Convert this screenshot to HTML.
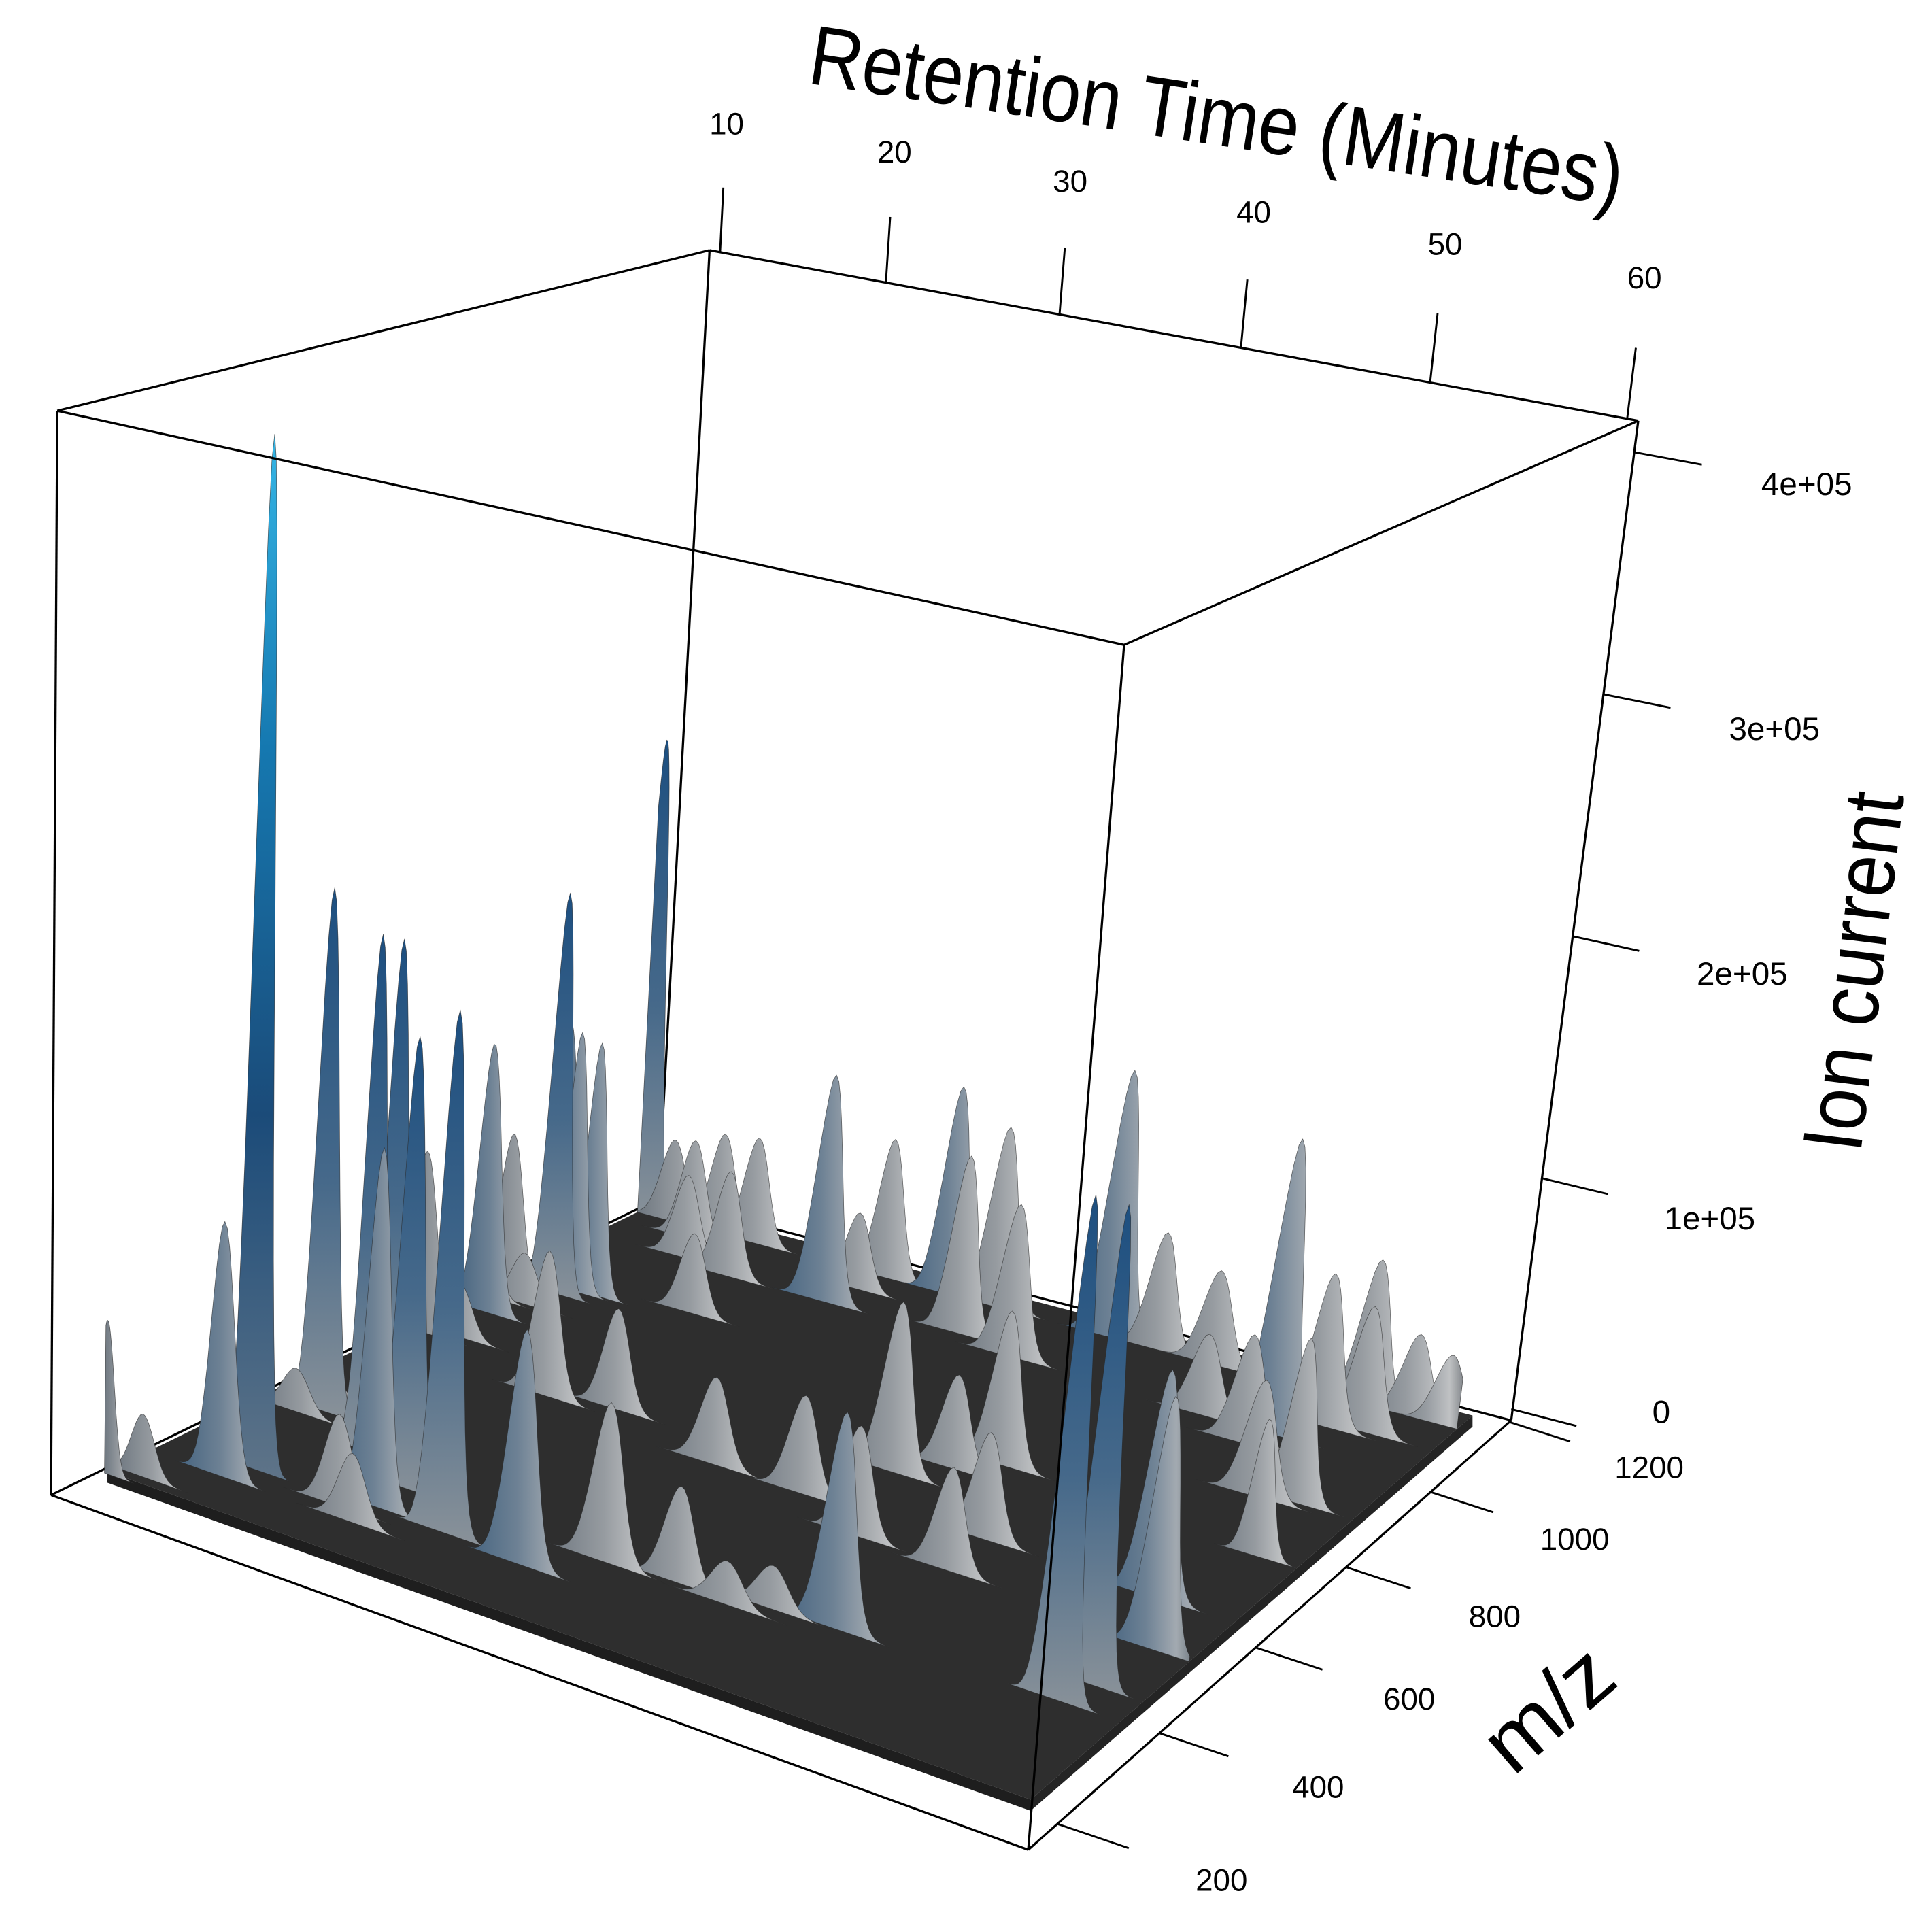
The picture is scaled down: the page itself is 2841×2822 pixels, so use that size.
<!DOCTYPE html>
<html><head><meta charset="utf-8"><title>Ion current surface</title>
<style>
html,body{margin:0;padding:0;background:#fff;}
svg{display:block;}
text{font-family:"Liberation Sans",Arial,sans-serif;fill:#000;}
</style></head>
<body>
<svg id="chart" xmlns="http://www.w3.org/2000/svg" width="2841" height="2822" viewBox="0 0 1552 1541.6" preserveAspectRatio="none">
<defs>
<linearGradient id="g-cyan" x1="0" y1="0" x2="0" y2="1">
<stop offset="0" stop-color="#35b6e6"/><stop offset="0.3" stop-color="#1578b0"/><stop offset="0.65" stop-color="#1b4b79"/><stop offset="1" stop-color="#5f7488"/>
</linearGradient>
<linearGradient id="g-blue" x1="0" y1="0" x2="0" y2="1">
<stop offset="0" stop-color="#1d4f80"/><stop offset="0.55" stop-color="#46698a"/><stop offset="1" stop-color="#8a9299"/>
</linearGradient>
<linearGradient id="g-mid" x1="0" y1="0" x2="1" y2="0">
<stop offset="0" stop-color="#42617e"/><stop offset="0.5" stop-color="#6d8194"/><stop offset="0.85" stop-color="#a3aab1"/><stop offset="1" stop-color="#7c848b"/>
</linearGradient>
<linearGradient id="g-gray" x1="0" y1="0" x2="1" y2="0">
<stop offset="0" stop-color="#6e7780"/><stop offset="0.5" stop-color="#969ba0"/><stop offset="0.82" stop-color="#bfc1c3"/><stop offset="1" stop-color="#85898d"/>
</linearGradient>
</defs>
<g id="back-edges"></g>
<g id="floor"></g>
<g id="peaks"></g>
<g id="front-edges"></g>
<g id="axes"></g>
<g transform="translate(974,116) rotate(8.6)">
<text x="0" y="0" text-anchor="middle" font-size="68" textLength="660" lengthAdjust="spacingAndGlyphs">Retention Time (Minutes)</text>
</g>
<g transform="translate(1512,783) rotate(-83.1)">
<text x="0" y="0" text-anchor="middle" font-size="68" textLength="290" lengthAdjust="spacingAndGlyphs">Ion current</text>
</g>
<g transform="translate(1243,1372) rotate(-41)">
<text x="0" y="24" text-anchor="middle" font-size="68" textLength="115" lengthAdjust="spacingAndGlyphs">m/z</text>
</g>
</svg>
<script>
// ---- data ----
const peakTime = [14.0,9.7,11.0,13.4,12.5,16.7,14.6,20.2,24.0,20.2,10.6,11.4,11.0,12.5,13.0,14.0,9.8,9.9,11.6,14.5,13.7,16.5,14.9,17.8,23.4,24.4,28.1,31.0,31.1,34.7,23.9,19.1,10.2,12.2,12.2,19.2,28.4,31.3,22.6,36.9,40.8,43.1,34.6,29.6,35.0,37.9,44.4,44.2,39.8,39.1,19.0,20.4,11.7,11.1,39.0,37.8,50.5,54.9,55.5,53.9,53.1,52.1,40.6,43.9,53.1,55.8,57.8,46.4,49.8,54.3,56.5,56.2,55.1];
const peakMz = [346,230,250,308,516,462,570,413,350,355,753,839,892,925,942,946,1021,1161,1161,1161,1133,1161,1086,1071,1073,1161,1161,1161,1084,1065,1120,968,875,882,767,698,339,401,716,762,841,423,663,666,409,399,604,686,420,805,330,307,496,559,614,1161,1054,430,479,677,925,1097,1161,1161,1161,1161,1161,1054,1021,1107,580,813,935];
const peakIntensity = [400000,59000,24000,98000,207000,202000,186000,174000,198000,137000,74000,111000,67000,167000,108000,105000,98000,205000,35000,43000,42000,45000,35000,44000,95000,59000,88000,76000,74000,63000,32000,33000,23000,21000,22000,58000,88000,60000,40000,67000,61000,80000,38000,34000,36000,16000,39000,41000,16000,37000,35000,26000,17000,21000,42000,112000,120000,183000,175000,86000,46000,62000,49000,39000,60000,34000,29000,33000,44000,51000,94000,53000,65000];
const peakWidth = [0.48,0.36,0.6,0.6,0.54,0.54,0.54,0.6,0.6,0.6,0.66,0.6,0.66,0.54,0.54,0.54,0.6,0.54,0.72,0.72,0.72,0.72,0.72,0.72,0.72,0.72,0.72,0.78,0.72,0.78,0.72,0.72,0.72,0.72,0.72,0.72,0.72,0.78,0.72,0.78,0.78,0.78,0.78,0.78,0.78,0.84,0.78,0.78,0.84,0.78,0.72,0.72,0.72,0.72,0.78,0.78,0.78,0.62,0.62,0.78,0.84,0.84,0.78,0.84,0.84,0.84,0.84,0.84,0.84,0.84,0.72,0.6,0.72];
const timeTicks = [10,20,30,40,50,60];
const mzTicks = [200,400,600,800,1000,1200];
const ionTicks = [0,100000,200000,300000,400000];
const ionTickLabels = ['0','1e+05','2e+05','3e+05','4e+05'];

(function(){
const tMin=9.35, tMax=60.55, mMin=145, mMax=1205, zMax=413000;
const floorT0=9.6, floorT1=58.5, floorM0=235, floorM1=1195;
const FLB=[41,1201],FRB=[826,1486],BLB=[529,963],BRB=[1214,1141];
const FLT=[46,330],FRT=[903,518],BLT=[570,201],BRT=[1316,338];
const NS='http://www.w3.org/2000/svg';
function tU(t){return (t-tMin)/(tMax-tMin);}
function mV(m){return (m-mMin)/(mMax-mMin);}
function zW(z){return z/zMax;}
function tickU(t){const u=tU(t);return u-0.11*u*(1-u);}
function tickV(m){const v=mV(m);return v+0.17*v*(1-v);}
function bil(a,b,c,d,u,v){
  const f=[a[0]+(b[0]-a[0])*u,a[1]+(b[1]-a[1])*u];
  const k=[c[0]+(d[0]-c[0])*u,c[1]+(d[1]-c[1])*u];
  return [f[0]+(k[0]-f[0])*v,f[1]+(k[1]-f[1])*v];
}
function P(u,v,w){
  const b=bil(FLB,FRB,BLB,BRB,u,v), t=bil(FLT,FRT,BLT,BRT,u,v);
  return [b[0]+(t[0]-b[0])*w,b[1]+(t[1]-b[1])*w];
}
function proj(t,m,z){return P(tU(t),mV(m),zW(z));}
function el(tag,attrs,parent){
  const e=document.createElementNS(NS,tag);
  for(const k in attrs)e.setAttribute(k,attrs[k]);
  parent.appendChild(e);return e;
}
function pts(arr){return arr.map(p=>p[0].toFixed(1)+','+p[1].toFixed(1)).join(' ');}

const backG=document.getElementById('back-edges');
[[BLT,BLB],[BLB,BRB],[BLB,FLB]].forEach(function(s){
  const ln=el('line',{x1:s[0][0],y1:s[0][1],x2:s[1][0],y2:s[1][1],stroke:'#000','stroke-width':1.8},backG);
  
  
});

const floorG=document.getElementById('floor');
const fa=proj(floorT0,floorM0,0),fb=proj(floorT1,floorM0,0),fc=proj(floorT1,floorM1,0),fd=proj(floorT0,floorM1,0);
const th=9;
const side1=el('polygon',{points:pts([fa,fb,[fb[0],fb[1]+th],[fa[0],fa[1]+th]]),fill:'#1e1e1e'},floorG);


const side2=el('polygon',{points:pts([fb,fc,[fc[0],fc[1]+th],[fb[0],fb[1]+th]]),fill:'#242424'},floorG);


const floorTop=el('polygon',{points:pts([fa,fb,fc,fd]),fill:'#2e2e2e'},floorG);



const peaksG=document.getElementById('peaks');
const order=peakTime.map(function(_,i){return i;});
order.sort(function(a,b){return peakMz[b]-peakMz[a] || peakTime[a]-peakTime[b];});
order.forEach(function(i){
  const t0=peakTime[i], sg=peakWidth[i], h=peakIntensity[i], m=peakMz[i];
  const a=Math.max(floorT0,t0-4*sg), b=Math.min(floorT1,t0+4*sg);
  const N=36, poly=[proj(a,m,0)];
  for(let j=0;j<=N;j++){
    const t=a+(b-a)*j/N;
    const d=(t-t0)/sg;
    poly.push(proj(t,m,h*Math.exp(-0.5*d*d)));
  }
  poly.push(proj(b,m,0));
  const fill=h>=300000?'url(#g-cyan)':h>=140000?'url(#g-blue)':h>=80000?'url(#g-mid)':'url(#g-gray)';
  const p=el('polygon',{points:pts(poly),fill:fill,stroke:'#2a2a2a','stroke-width':0.4,'stroke-opacity':0.7,'stroke-linejoin':'round'},peaksG);
  
  
});

const frontG=document.getElementById('front-edges');
[[FLT,FLB],[FRT,FRB],[BRT,BRB],[FLB,FRB],[FRB,BRB],[FLT,FRT],[FRT,BRT],[BRT,BLT],[BLT,FLT]].forEach(function(s){
  const ln=el('line',{x1:s[0][0],y1:s[0][1],x2:s[1][0],y2:s[1][1],stroke:'#000','stroke-width':1.8},frontG);
  
  
});

const axesG=document.getElementById('axes');
timeTicks.forEach(function(t){
  const u=tickU(t), s=P(u,1,1), vx=2.6+4.4*u, vy=-(51.8+5.2*u);
  const ln=el('line',{x1:s[0],y1:s[1],x2:s[0]+vx,y2:s[1]+vy,stroke:'#000','stroke-width':1.6},axesG);
  
  
  const tx=el('text',{x:s[0]+2*vx,y:s[1]+2*vy+9,'text-anchor':'middle','font-size':25},axesG);
  tx.textContent=String(t);
  
  
});
mzTicks.forEach(function(m){
  const v=tickV(m), s=P(1,v,0), vx=57.9-9.1*v, vy=19.7-4.1*v;
  const ln=el('line',{x1:s[0],y1:s[1],x2:s[0]+vx,y2:s[1]+vy,stroke:'#000','stroke-width':1.6},axesG);
  
  
  const tx=el('text',{x:s[0]+2.3*vx,y:s[1]+2.3*vy+9,'text-anchor':'middle','font-size':25},axesG);
  tx.textContent=String(m);
  
  
});
ionTicks.forEach(function(z,k){
  const w=zW(z), s=P(1,1,w), vx=52.4+2*w, vy=13.5-3.6*w;
  const ln=el('line',{x1:s[0],y1:s[1]-(z===0?9:0),x2:s[0]+vx,y2:s[1]+vy-(z===0?9:0),stroke:'#000','stroke-width':1.6},axesG);
  
  
  const f=z===0?2.3:2.55;
  const tx=el('text',{x:s[0]+f*vx,y:s[1]+f*vy+9-(z===0?38:0),'text-anchor':'middle','font-size':26},axesG);
  tx.textContent=ionTickLabels[k];
  
  
});
})();
</script>
</body></html>
